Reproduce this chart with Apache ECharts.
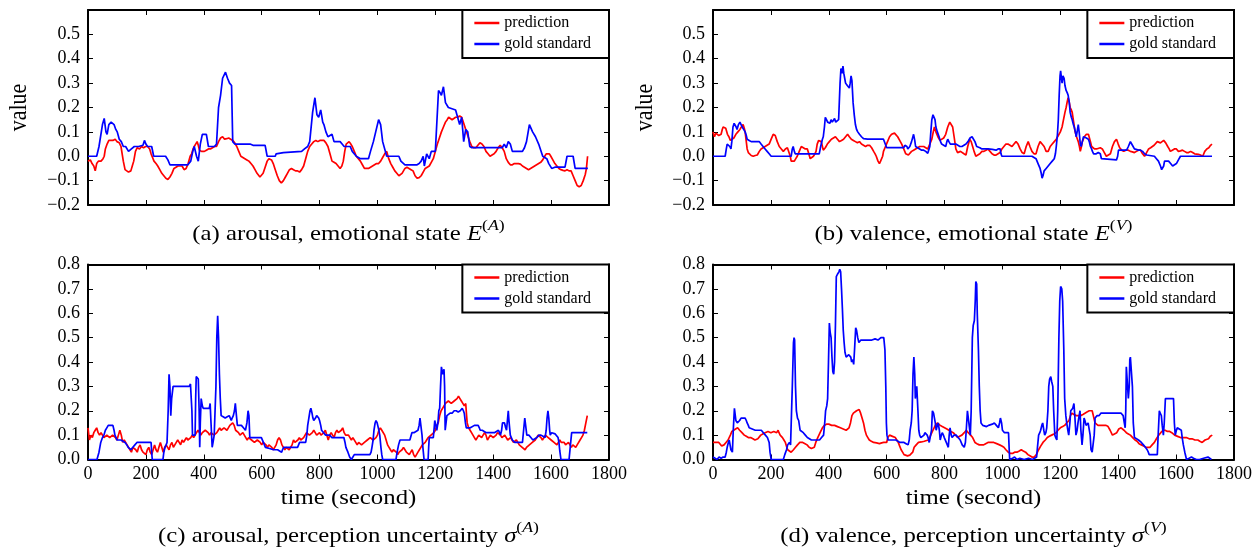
<!DOCTYPE html>
<html><head><meta charset="utf-8">
<script src="https://cdn.jsdelivr.net/npm/echarts@6/dist/echarts.min.js"></script>
<style>html,body{margin:0;padding:0;background:#fff}#c{width:1260px;height:552px}</style>
</head><body><div id="c"></div>
<script>
const FONT = 'Liberation Serif';
const legendNames = ['prediction', 'gold standard'];
const timeAxis = {min: 0, max: 1800, interval: 200};
const stateAxis = {min: -0.2, max: 0.6, interval: 0.1, maxLabel: 0.5};
const uncAxis = {min: 0, max: 0.8, interval: 0.1, maxLabel: 0.8};

const arousalStatePred = [[0,-0.02],[8,-0.015],[14,-0.03],[20,-0.04],[25,-0.06],[30,-0.03],[36,-0.02],[45,-0.02],[52,-0.01],[56,0.0],[60,0.03],[66,0.05],[72,0.065],[78,0.07],[86,0.065],[94,0.07],[100,0.06],[108,0.055],[114,0.04],[118,0.01],[122,-0.02],[128,-0.055],[134,-0.063],[140,-0.065],[148,-0.06],[153,-0.04],[158,-0.02],[164,0.02],[170,0.035],[178,0.03],[185,0.04],[192,0.035],[199,0.04],[206,0.04],[213,0.03],[218,0.01],[223,-0.005],[228,-0.02],[235,-0.03],[241,-0.04],[248,-0.055],[255,-0.07],[262,-0.08],[269,-0.09],[276,-0.095],[283,-0.085],[290,-0.07],[297,-0.05],[304,-0.045],[311,-0.04],[318,-0.04],[325,-0.04],[332,-0.055],[339,-0.05],[346,-0.03],[353,0.0],[358,0.01],[363,0.03],[367,0.04],[372,0.05],[377,0.06],[381,0.045],[385,0.025],[392,0.02],[402,0.02],[409,0.025],[416,0.03],[423,0.03],[430,0.035],[437,0.04],[444,0.04],[451,0.06],[458,0.075],[465,0.08],[472,0.07],[479,0.072],[486,0.075],[493,0.07],[500,0.065],[507,0.055],[514,0.04],[521,0.02],[528,0.0],[535,-0.005],[542,-0.01],[549,-0.015],[556,-0.02],[563,-0.03],[570,-0.04],[577,-0.055],[584,-0.07],[594,-0.085],[600,-0.08],[605,-0.07],[612,-0.045],[619,-0.02],[625,-0.01],[629,-0.005],[634,-0.015],[640,-0.03],[647,-0.055],[654,-0.08],[661,-0.1],[668,-0.11],[675,-0.1],[682,-0.085],[689,-0.07],[696,-0.055],[703,-0.05],[710,-0.055],[717,-0.06],[724,-0.06],[731,-0.065],[738,-0.055],[745,-0.04],[752,-0.01],[759,0.02],[766,0.04],[773,0.05],[780,0.06],[787,0.065],[794,0.06],[801,0.065],[808,0.065],[815,0.065],[822,0.055],[829,0.04],[836,0.01],[843,-0.02],[850,-0.025],[857,-0.03],[864,-0.04],[871,-0.05],[877,-0.04],[882,-0.02],[887,0.02],[892,0.05],[897,0.058],[902,0.06],[908,0.05],[913,0.04],[920,0.02],[927,0.0],[934,-0.01],[941,-0.02],[948,-0.035],[955,-0.05],[962,-0.05],[969,-0.05],[976,-0.045],[983,-0.04],[990,-0.035],[997,-0.03],[1004,-0.03],[1011,-0.02],[1018,-0.005],[1025,0.01],[1032,0.02],[1039,-0.01],[1046,-0.03],[1053,-0.045],[1060,-0.06],[1067,-0.07],[1074,-0.08],[1080,-0.075],[1085,-0.07],[1090,-0.06],[1095,-0.05],[1102,-0.045],[1109,-0.05],[1116,-0.055],[1123,-0.06],[1130,-0.08],[1137,-0.09],[1144,-0.088],[1151,-0.08],[1158,-0.065],[1165,-0.05],[1172,-0.045],[1179,-0.04],[1186,-0.025],[1193,-0.01],[1200,0.02],[1207,0.05],[1214,0.075],[1221,0.1],[1228,0.12],[1235,0.14],[1241,0.15],[1246,0.16],[1252,0.16],[1258,0.15],[1263,0.155],[1270,0.16],[1277,0.16],[1284,0.165],[1291,0.16],[1298,0.135],[1305,0.11],[1312,0.085],[1319,0.06],[1326,0.04],[1333,0.035],[1340,0.035],[1347,0.045],[1354,0.055],[1361,0.05],[1368,0.04],[1375,0.02],[1382,0.01],[1389,0.0],[1396,0.005],[1403,0.01],[1410,0.02],[1417,0.035],[1424,0.045],[1431,0.035],[1438,0.02],[1445,-0.01],[1452,-0.025],[1459,-0.035],[1466,-0.035],[1473,-0.03],[1480,-0.03],[1487,-0.03],[1494,-0.032],[1501,-0.04],[1508,-0.045],[1515,-0.05],[1522,-0.055],[1529,-0.05],[1536,-0.045],[1543,-0.04],[1550,-0.035],[1557,-0.03],[1564,-0.025],[1571,-0.015],[1578,0.0],[1583,0.01],[1588,0.015],[1594,0.01],[1599,0.0],[1606,-0.015],[1613,-0.03],[1620,-0.04],[1627,-0.05],[1634,-0.055],[1641,-0.058],[1648,-0.06],[1655,-0.055],[1662,-0.06],[1669,-0.06],[1676,-0.08],[1683,-0.1],[1690,-0.12],[1697,-0.125],[1704,-0.12],[1711,-0.1],[1718,-0.075],[1722,-0.05],[1726,0.0]];

const arousalStateGold = [[0,0],[30,0],[38,0.04],[50,0.13],[56,0.155],[62,0.1],[66,0.09],[72,0.13],[80,0.14],[90,0.13],[96,0.11],[101,0.1],[108,0.07],[115,0.06],[122,0.04],[130,0.04],[140,0.02],[150,0.03],[160,0.04],[175,0.04],[190,0.045],[195,0.065],[200,0.05],[206,0.04],[220,0.04],[227,0],[268,0],[276,-0.015],[283,-0.035],[345,-0.035],[355,-0.02],[362,0.02],[367,0.04],[375,0],[381,-0.02],[388,0.05],[395,0.09],[409,0.09],[416,0.04],[437,0.04],[444,0.05],[451,0.2],[458,0.25],[465,0.32],[475,0.345],[482,0.32],[489,0.3],[496,0.29],[500,0.06],[507,0.05],[560,0.05],[563,0.055],[570,0.045],[612,0.045],[619,0],[647,0],[650,0.01],[675,0.015],[680,0.02],[738,0.02],[748,0.03],[759,0.04],[766,0.06],[776,0.18],[784,0.24],[791,0.17],[797,0.16],[804,0.19],[811,0.14],[815,0.13],[822,0.1],[829,0.08],[843,0.09],[850,0.06],[871,0.06],[878,0.05],[885,0.04],[906,0.04],[913,0.02],[927,0],[941,-0.01],[969,-0.01],[976,0.02],[986,0.06],[994,0.1],[1004,0.15],[1011,0.13],[1018,0.06],[1032,0],[1074,0],[1081,-0.02],[1095,-0.035],[1137,-0.035],[1144,-0.03],[1151,-0.02],[1158,0.0],[1162,-0.04],[1170,0.01],[1179,-0.01],[1186,0.02],[1200,0.02],[1211,0.27],[1217,0.26],[1221,0.25],[1228,0.285],[1235,0.22],[1245,0.2],[1270,0.19],[1277,0.16],[1284,0.13],[1291,0.16],[1298,0.06],[1305,0.11],[1312,0.1],[1319,0.04],[1326,0.035],[1431,0.035],[1438,0.05],[1445,0.035],[1452,0.06],[1459,0.05],[1466,0.02],[1501,0.02],[1508,0.035],[1515,0.06],[1525,0.13],[1536,0.1],[1546,0.08],[1557,0.05],[1571,0],[1585,-0.01],[1592,-0.03],[1602,-0.05],[1613,-0.045],[1648,-0.045],[1655,0],[1676,0],[1683,-0.05],[1727,-0.05]];

const valenceStatePred = [[0,0.1],[5,0.08],[10,0.095],[14,0.09],[20,0.085],[28,0.09],[32,0.11],[35,0.12],[40,0.12],[44,0.115],[50,0.09],[55,0.08],[60,0.065],[65,0.06],[72,0.075],[79,0.09],[86,0.1],[93,0.11],[98,0.12],[104,0.13],[108,0.115],[111,0.1],[115,0.06],[118,0.03],[122,0.015],[125,0.01],[132,0.003],[139,0.0],[146,0.003],[153,0.005],[160,0.02],[166,0.03],[173,0.035],[180,0.04],[187,0.045],[194,0.05],[201,0.07],[208,0.09],[215,0.085],[222,0.06],[229,0.04],[236,0.03],[243,0.02],[250,0.03],[257,0.035],[263,0.03],[267,0.0],[270,-0.02],[276,-0.018],[281,-0.02],[286,-0.01],[291,0.0],[298,0.02],[305,0.04],[312,0.035],[319,0.03],[326,0.03],[331,0.01],[336,-0.01],[341,-0.005],[347,0.0],[352,0.01],[356,0.02],[360,0.05],[365,0.065],[370,0.065],[374,0.06],[378,0.04],[381,0.025],[388,0.035],[395,0.05],[402,0.06],[409,0.07],[416,0.075],[423,0.08],[430,0.07],[437,0.06],[444,0.065],[451,0.07],[458,0.08],[465,0.09],[471,0.08],[478,0.07],[485,0.065],[492,0.06],[499,0.055],[506,0.06],[513,0.05],[520,0.045],[527,0.04],[534,0.045],[541,0.045],[548,0.035],[555,0.02],[560,0.01],[564,0.0],[570,-0.02],[575,-0.03],[579,-0.02],[582,-0.015],[586,0.0],[589,0.02],[596,0.04],[603,0.06],[610,0.08],[617,0.09],[622,0.095],[627,0.095],[632,0.09],[638,0.08],[645,0.065],[652,0.05],[659,0.03],[666,0.01],[675,0.005],[680,0.01],[686,0.02],[693,0.025],[700,0.03],[707,0.035],[714,0.04],[721,0.04],[728,0.04],[735,0.035],[742,0.03],[749,0.05],[756,0.07],[761,0.1],[765,0.12],[770,0.1],[777,0.08],[784,0.065],[790,0.06],[797,0.075],[804,0.09],[811,0.12],[818,0.14],[823,0.14],[828,0.12],[833,0.08],[839,0.03],[845,0.015],[850,0.01],[855,0.02],[860,0.02],[867,0.01],[874,0.005],[880,0.04],[887,0.07],[892,0.06],[897,0.04],[902,0.02],[908,0.0],[915,0.005],[922,0.01],[929,0.02],[936,0.02],[943,0.025],[950,0.03],[957,0.02],[964,0.01],[971,0.005],[978,0.005],[985,0.01],[992,0.015],[998,0.03],[1005,0.04],[1012,0.05],[1019,0.05],[1026,0.045],[1033,0.04],[1040,0.05],[1047,0.06],[1054,0.05],[1061,0.03],[1068,0.015],[1075,0.01],[1082,0.04],[1089,0.06],[1095,0.04],[1102,0.02],[1109,0.01],[1116,0.01],[1123,0.04],[1130,0.06],[1137,0.05],[1144,0.04],[1151,0.02],[1158,0.02],[1165,0.04],[1172,0.05],[1179,0.06],[1186,0.07],[1193,0.085],[1200,0.1],[1206,0.12],[1211,0.15],[1216,0.18],[1220,0.2],[1224,0.225],[1227,0.24],[1231,0.22],[1234,0.2],[1238,0.19],[1241,0.18],[1246,0.14],[1251,0.1],[1256,0.08],[1262,0.06],[1266,0.04],[1269,0.02],[1273,0.04],[1276,0.06],[1283,0.08],[1290,0.09],[1297,0.09],[1300,0.09],[1304,0.06],[1308,0.04],[1313,0.035],[1318,0.03],[1325,0.03],[1331,0.03],[1338,0.035],[1345,0.03],[1352,0.015],[1359,0.0],[1366,0.005],[1373,0.01],[1380,0.04],[1387,0.06],[1394,0.07],[1400,0.05],[1405,0.035],[1412,0.025],[1419,0.02],[1426,0.025],[1435,0.025],[1442,0.02],[1449,0.018],[1456,0.015],[1463,0.02],[1470,0.025],[1477,0.025],[1484,0.01],[1491,0.0],[1498,0.015],[1505,0.03],[1512,0.035],[1517,0.04],[1524,0.045],[1530,0.05],[1535,0.06],[1540,0.058],[1546,0.055],[1552,0.06],[1557,0.065],[1564,0.055],[1571,0.04],[1576,0.03],[1580,0.02],[1587,0.025],[1594,0.03],[1601,0.03],[1608,0.02],[1615,0.022],[1622,0.025],[1629,0.02],[1636,0.015],[1643,0.015],[1650,0.02],[1657,0.015],[1664,0.01],[1670,0.005],[1677,0.008],[1684,0.005],[1692,0.0],[1699,0.02],[1706,0.03],[1713,0.035],[1719,0.045],[1724,0.05]];

const valenceStateGold = [[0,0],[42,0],[46,0.03],[49,0.05],[55,0.05],[58,0.04],[62,0.03],[65,0.06],[69,0.12],[73,0.135],[76,0.13],[80,0.12],[83,0.11],[88,0.13],[93,0.14],[97,0.13],[101,0.12],[106,0.11],[111,0.1],[115,0.085],[118,0.07],[125,0.065],[132,0.06],[160,0.06],[166,0.05],[173,0.04],[180,0.03],[187,0.02],[194,0.01],[201,0],[270,0],[274,0.03],[277,0.04],[281,0.02],[284,0.01],[367,0.01],[372,0.04],[378,0.07],[381,0.08],[385,0.12],[388,0.16],[392,0.15],[396,0.14],[400,0.145],[404,0.135],[408,0.15],[412,0.14],[416,0.14],[420,0.155],[424,0.14],[430,0.14],[434,0.15],[439,0.3],[442,0.36],[446,0.34],[449,0.37],[452,0.34],[455,0.32],[458,0.3],[464,0.29],[471,0.28],[474,0.3],[477,0.33],[480,0.31],[484,0.22],[488,0.17],[492,0.13],[496,0.11],[500,0.1],[506,0.09],[513,0.08],[520,0.072],[534,0.07],[589,0.07],[595,0.07],[600,0.035],[659,0.035],[663,0.045],[666,0.05],[670,0.04],[673,0.03],[680,0.04],[686,0.06],[690,0.065],[693,0.09],[697,0.065],[700,0.04],[707,0.035],[714,0.03],[721,0.025],[728,0.025],[735,0.02],[742,0.012],[746,0.02],[749,0.04],[752,0.09],[756,0.15],[760,0.17],[763,0.175],[767,0.15],[770,0.12],[775,0.1],[781,0.08],[786,0.06],[790,0.05],[797,0.045],[804,0.04],[808,0.06],[811,0.07],[815,0.06],[820,0.05],[830,0.05],[839,0.05],[846,0.045],[853,0.04],[860,0.04],[867,0.045],[874,0.05],[881,0.06],[888,0.075],[895,0.08],[900,0.085],[905,0.06],[911,0.04],[916,0.035],[922,0.035],[929,0.03],[936,0.03],[950,0.03],[965,0.028],[978,0.025],[985,0.03],[992,0.03],[995,0.01],[998,0],[1102,0],[1109,-0.005],[1116,-0.01],[1123,-0.03],[1130,-0.05],[1134,-0.07],[1137,-0.09],[1140,-0.08],[1144,-0.06],[1151,-0.05],[1158,-0.04],[1165,-0.03],[1172,-0.02],[1179,-0.01],[1183,0.01],[1186,0.04],[1190,0.09],[1193,0.15],[1196,0.25],[1199,0.33],[1201,0.35],[1204,0.32],[1206,0.3],[1209,0.33],[1213,0.32],[1216,0.29],[1220,0.27],[1224,0.26],[1227,0.25],[1231,0.22],[1234,0.18],[1238,0.16],[1241,0.15],[1245,0.13],[1248,0.12],[1252,0.1],[1255,0.08],[1258,0.1],[1262,0.13],[1265,0.1],[1269,0.05],[1272,0.04],[1276,0.06],[1280,0.08],[1283,0.08],[1290,0.075],[1297,0.07],[1300,0.06],[1304,0.04],[1308,0.03],[1311,0.02],[1315,0.01],[1318,0.005],[1324,0.01],[1331,0.015],[1338,0.01],[1342,-0.01],[1345,-0.015],[1394,-0.015],[1398,0.0],[1401,0.025],[1429,0.025],[1435,0.04],[1442,0.06],[1446,0.055],[1449,0.045],[1456,0.03],[1470,0.025],[1477,0.025],[1484,0.02],[1491,0.01],[1498,0.005],[1525,0.0],[1532,-0.01],[1539,-0.02],[1546,-0.04],[1550,-0.055],[1553,-0.06],[1557,-0.04],[1560,-0.02],[1574,-0.02],[1581,-0.03],[1588,-0.04],[1594,-0.04],[1601,-0.03],[1608,-0.015],[1615,0],[1724,0]];

const arousalUncPred = [[0,0.13],[5,0.08],[10,0.1],[15,0.09],[20,0.11],[25,0.12],[30,0.13],[35,0.11],[40,0.1],[45,0.11],[50,0.1],[55,0.09],[60,0.09],[65,0.1],[70,0.1],[75,0.09],[80,0.09],[85,0.1],[90,0.1],[95,0.09],[100,0.08],[105,0.1],[110,0.12],[115,0.1],[120,0.07],[125,0.08],[130,0.07],[135,0.06],[140,0.05],[145,0.04],[150,0.03],[155,0.05],[160,0.05],[165,0.04],[170,0.03],[175,0.05],[180,0.06],[185,0.04],[190,0.03],[195,0.03],[200,0.02],[205,0.04],[210,0.05],[215,0.03],[220,0.02],[225,0.04],[230,0.06],[235,0.04],[240,0.03],[245,0.05],[250,0.07],[255,0.05],[260,0.03],[265,0.05],[270,0.06],[275,0.05],[280,0.04],[285,0.06],[290,0.07],[295,0.05],[300,0.05],[305,0.07],[310,0.08],[315,0.07],[320,0.06],[325,0.08],[330,0.07],[335,0.08],[340,0.09],[345,0.08],[350,0.08],[355,0.09],[360,0.1],[365,0.09],[370,0.1],[375,0.11],[380,0.12],[385,0.11],[390,0.1],[395,0.11],[400,0.11],[405,0.12],[410,0.12],[415,0.11],[420,0.1],[425,0.11],[430,0.11],[435,0.1],[440,0.1],[445,0.11],[450,0.12],[455,0.13],[460,0.12],[465,0.12],[470,0.13],[475,0.13],[480,0.12],[485,0.13],[490,0.14],[495,0.14],[500,0.15],[505,0.14],[510,0.12],[515,0.12],[520,0.11],[525,0.1],[530,0.1],[535,0.11],[540,0.1],[545,0.09],[550,0.08],[555,0.09],[560,0.09],[565,0.08],[570,0.08],[575,0.07],[580,0.07],[585,0.08],[590,0.08],[595,0.07],[600,0.06],[605,0.07],[610,0.07],[615,0.06],[620,0.05],[625,0.06],[630,0.06],[635,0.05],[640,0.04],[645,0.05],[650,0.06],[655,0.08],[660,0.09],[665,0.08],[670,0.06],[675,0.05],[680,0.04],[685,0.05],[690,0.05],[695,0.04],[700,0.04],[705,0.06],[710,0.08],[715,0.07],[720,0.07],[725,0.08],[730,0.09],[735,0.08],[740,0.08],[745,0.09],[750,0.1],[755,0.11],[760,0.11],[765,0.1],[770,0.1],[775,0.11],[780,0.12],[785,0.11],[790,0.1],[795,0.1],[800,0.11],[805,0.1],[810,0.1],[815,0.11],[820,0.12],[825,0.1],[830,0.08],[835,0.1],[840,0.11],[845,0.1],[850,0.09],[855,0.11],[860,0.12],[865,0.11],[870,0.11],[875,0.12],[880,0.13],[885,0.11],[890,0.1],[895,0.1],[900,0.1],[905,0.09],[910,0.08],[915,0.09],[920,0.09],[925,0.07],[930,0.06],[935,0.07],[940,0.07],[945,0.06],[950,0.06],[955,0.07],[960,0.07],[965,0.08],[970,0.08],[975,0.09],[980,0.09],[985,0.08],[990,0.08],[995,0.09],[1000,0.1],[1005,0.12],[1010,0.13],[1015,0.12],[1020,0.12],[1025,0.1],[1030,0.08],[1035,0.06],[1040,0.05],[1045,0.04],[1050,0.03],[1055,0.04],[1060,0.04],[1065,0.03],[1070,0.02],[1075,0.03],[1080,0.03],[1085,0.04],[1090,0.05],[1095,0.04],[1100,0.03],[1105,0.03],[1110,0.02],[1115,0.03],[1120,0.04],[1125,0.02],[1130,0.01],[1135,0.02],[1140,0.03],[1145,0.04],[1150,0.05],[1155,0.06],[1160,0.06],[1165,0.07],[1170,0.08],[1175,0.09],[1180,0.09],[1185,0.1],[1190,0.1],[1195,0.11],[1200,0.12],[1205,0.14],[1210,0.15],[1215,0.18],[1220,0.2],[1225,0.21],[1230,0.22],[1235,0.23],[1240,0.23],[1245,0.24],[1250,0.24],[1255,0.23],[1260,0.23],[1265,0.24],[1270,0.24],[1275,0.25],[1280,0.26],[1285,0.25],[1290,0.24],[1295,0.23],[1300,0.22],[1305,0.23],[1308,0.18],[1310,0.15],[1315,0.13],[1320,0.12],[1325,0.11],[1330,0.1],[1335,0.09],[1340,0.08],[1345,0.09],[1350,0.1],[1355,0.1],[1360,0.09],[1365,0.1],[1370,0.11],[1375,0.1],[1380,0.08],[1385,0.09],[1390,0.1],[1395,0.1],[1400,0.09],[1405,0.09],[1410,0.1],[1415,0.11],[1420,0.11],[1425,0.1],[1430,0.09],[1435,0.09],[1440,0.1],[1445,0.09],[1450,0.08],[1455,0.08],[1460,0.09],[1465,0.08],[1470,0.07],[1475,0.07],[1480,0.08],[1485,0.07],[1490,0.06],[1495,0.06],[1500,0.05],[1505,0.05],[1510,0.04],[1515,0.05],[1520,0.05],[1525,0.06],[1530,0.06],[1535,0.07],[1540,0.07],[1545,0.08],[1550,0.09],[1555,0.1],[1560,0.1],[1565,0.09],[1570,0.08],[1575,0.09],[1580,0.1],[1585,0.1],[1590,0.09],[1595,0.09],[1600,0.08],[1605,0.08],[1610,0.07],[1615,0.07],[1620,0.06],[1625,0.07],[1630,0.08],[1635,0.07],[1640,0.07],[1645,0.07],[1650,0.06],[1655,0.06],[1660,0.07],[1665,0.06],[1670,0.05],[1675,0.06],[1680,0.06],[1685,0.05],[1690,0.06],[1695,0.06],[1700,0.08],[1705,0.09],[1710,0.1],[1715,0.12],[1720,0.15],[1725,0.18]];

const arousalUncGold = [[0,0],[31,0],[38,0.03],[44,0.07],[50,0.09],[55,0.1],[60,0.12],[65,0.13],[70,0.14],[86,0.14],[90,0.12],[93,0.1],[97,0.09],[100,0.08],[114,0.08],[121,0.075],[128,0.07],[134,0.06],[139,0.05],[144,0.045],[148,0.04],[155,0.05],[162,0.06],[169,0.07],[218,0.07],[220,0.03],[222,0],[259,0],[262,0.03],[266,0.05],[270,0.06],[273,0.07],[277,0.2],[280,0.35],[283,0.3],[286,0.18],[289,0.25],[294,0.3],[350,0.3],[354,0.31],[357,0.31],[359,0.2],[361,0.1],[370,0.1],[372,0.25],[374,0.34],[378,0.34],[381,0.33],[384,0.2],[386,0.05],[388,0.15],[391,0.25],[395,0.22],[398,0.21],[419,0.21],[422,0.23],[425,0.15],[429,0.05],[432,0.07],[436,0.1],[439,0.2],[442,0.3],[445,0.5],[448,0.59],[451,0.5],[454,0.35],[457,0.25],[460,0.18],[467,0.175],[474,0.17],[481,0.175],[488,0.18],[495,0.16],[498,0.17],[502,0.18],[506,0.2],[509,0.23],[512,0.19],[516,0.14],[530,0.14],[537,0.13],[544,0.12],[549,0.15],[553,0.2],[556,0.18],[559,0.09],[599,0.09],[606,0.07],[613,0.05],[627,0.045],[641,0.04],[655,0.04],[662,0.035],[669,0.03],[672,0.04],[676,0.05],[724,0.05],[731,0.07],[752,0.07],[756,0.1],[759,0.14],[763,0.17],[767,0.2],[770,0.21],[774,0.19],[777,0.17],[780,0.16],[786,0.17],[790,0.18],[793,0.18],[797,0.17],[800,0.16],[804,0.14],[807,0.12],[814,0.11],[821,0.1],[835,0.1],[842,0.09],[884,0.09],[888,0.07],[891,0.05],[898,0.03],[904,0.01],[910,0.0],[915,0],[920,0.02],[974,0.02],[978,0.03],[981,0.05],[985,0.08],[988,0.12],[992,0.15],[995,0.16],[999,0.15],[1001,0.14],[1005,0.12],[1008,0.1],[1012,0.05],[1015,0.02],[1018,0],[1064,0],[1068,0.03],[1073,0.06],[1078,0.08],[1112,0.08],[1119,0.11],[1126,0.11],[1133,0.115],[1140,0.12],[1144,0.14],[1147,0.17],[1150,0.14],[1154,0.1],[1157,0.05],[1161,0],[1175,0],[1177,0.05],[1179,0.09],[1193,0.09],[1196,0.13],[1198,0.16],[1202,0.14],[1205,0.12],[1209,0.15],[1212,0.2],[1215,0.21],[1218,0.3],[1221,0.38],[1224,0.36],[1226,0.35],[1230,0.37],[1232,0.3],[1234,0.12],[1237,0.15],[1240,0.18],[1251,0.19],[1258,0.19],[1265,0.2],[1272,0.2],[1279,0.195],[1286,0.2],[1293,0.21],[1297,0.2],[1300,0.19],[1304,0.15],[1307,0.13],[1314,0.13],[1321,0.13],[1335,0.14],[1348,0.14],[1352,0.13],[1355,0.12],[1362,0.12],[1369,0.115],[1376,0.11],[1404,0.11],[1411,0.115],[1418,0.12],[1422,0.11],[1425,0.1],[1429,0.12],[1432,0.15],[1439,0.15],[1443,0.13],[1446,0.12],[1449,0.16],[1452,0.2],[1455,0.15],[1459,0.1],[1466,0.08],[1474,0.07],[1501,0.07],[1505,0.12],[1509,0.17],[1512,0.14],[1516,0.1],[1523,0.1],[1530,0.09],[1537,0.08],[1544,0.085],[1551,0.09],[1558,0.1],[1565,0.1],[1572,0.095],[1579,0.09],[1583,0.12],[1586,0.17],[1589,0.2],[1592,0.17],[1595,0.12],[1597,0.1],[1602,0.11],[1607,0.11],[1614,0.105],[1620,0.1],[1624,0.09],[1627,0.07],[1630,0.035],[1634,0],[1662,0],[1666,0.05],[1671,0.11],[1725,0.11]];

const valenceUncPred = [[0,0.07],[10,0.07],[20,0.07],[30,0.055],[38,0.06],[45,0.07],[52,0.08],[60,0.1],[65,0.115],[70,0.12],[78,0.125],[85,0.13],[92,0.12],[100,0.11],[108,0.1],[115,0.095],[122,0.09],[130,0.09],[138,0.085],[145,0.08],[150,0.08],[155,0.085],[160,0.09],[165,0.1],[172,0.105],[180,0.11],[190,0.115],[200,0.11],[210,0.115],[215,0.11],[220,0.11],[225,0.12],[228,0.11],[232,0.1],[240,0.09],[245,0.08],[250,0.07],[255,0.05],[258,0.04],[264,0.035],[270,0.03],[278,0.04],[285,0.05],[292,0.06],[300,0.07],[310,0.07],[318,0.065],[325,0.06],[332,0.05],[340,0.045],[345,0.04],[350,0.05],[355,0.07],[362,0.09],[370,0.11],[378,0.13],[385,0.14],[392,0.145],[400,0.145],[410,0.14],[420,0.14],[430,0.135],[440,0.13],[450,0.125],[460,0.12],[466,0.125],[470,0.13],[475,0.15],[480,0.18],[485,0.19],[490,0.195],[496,0.2],[500,0.2],[505,0.205],[510,0.19],[515,0.17],[520,0.15],[525,0.12],[530,0.1],[535,0.09],[540,0.08],[547,0.075],[555,0.07],[565,0.068],[575,0.065],[583,0.068],[590,0.07],[596,0.07],[600,0.07],[604,0.09],[610,0.1],[615,0.1],[620,0.095],[626,0.09],[630,0.09],[635,0.08],[640,0.07],[645,0.055],[650,0.04],[655,0.03],[660,0.02],[665,0.015],[672,0.015],[680,0.018],[686,0.02],[690,0.03],[695,0.05],[702,0.06],[710,0.07],[720,0.072],[730,0.075],[738,0.078],[745,0.08],[752,0.1],[760,0.12],[768,0.14],[775,0.15],[780,0.145],[785,0.14],[792,0.135],[800,0.13],[808,0.125],[815,0.12],[822,0.115],[830,0.11],[838,0.1],[845,0.09],[852,0.095],[860,0.1],[868,0.11],[875,0.12],[882,0.11],[890,0.1],[897,0.09],[905,0.07],[912,0.065],[920,0.06],[928,0.06],[935,0.06],[942,0.065],[950,0.07],[960,0.07],[970,0.07],[980,0.065],[990,0.06],[998,0.055],[1005,0.05],[1012,0.04],[1020,0.03],[1028,0.025],[1035,0.025],[1042,0.03],[1050,0.03],[1058,0.035],[1065,0.04],[1072,0.035],[1080,0.03],[1088,0.02],[1095,0.015],[1102,0.01],[1110,0.01],[1117,0.02],[1125,0.04],[1132,0.055],[1140,0.07],[1148,0.08],[1155,0.09],[1162,0.095],[1170,0.1],[1178,0.105],[1185,0.11],[1192,0.12],[1200,0.13],[1208,0.135],[1215,0.14],[1222,0.15],[1230,0.16],[1235,0.18],[1240,0.19],[1247,0.185],[1255,0.18],[1262,0.18],[1270,0.18],[1278,0.185],[1285,0.19],[1292,0.195],[1300,0.2],[1306,0.2],[1310,0.2],[1314,0.18],[1320,0.15],[1325,0.145],[1330,0.14],[1340,0.14],[1350,0.14],[1358,0.14],[1365,0.135],[1372,0.12],[1380,0.1],[1387,0.105],[1395,0.11],[1402,0.125],[1410,0.13],[1415,0.13],[1420,0.12],[1428,0.11],[1435,0.105],[1442,0.1],[1450,0.09],[1458,0.08],[1465,0.075],[1472,0.065],[1480,0.06],[1488,0.055],[1495,0.05],[1502,0.05],[1510,0.05],[1517,0.06],[1525,0.07],[1532,0.085],[1540,0.1],[1547,0.11],[1555,0.12],[1562,0.12],[1570,0.115],[1578,0.115],[1585,0.11],[1595,0.1],[1605,0.095],[1615,0.09],[1625,0.09],[1635,0.09],[1645,0.085],[1655,0.085],[1665,0.08],[1675,0.08],[1682,0.075],[1690,0.07],[1695,0.075],[1700,0.08],[1706,0.085],[1712,0.085],[1718,0.095],[1725,0.1]];

const valenceUncGold = [[0,0.01],[7,0.005],[14,0.0],[21,0.01],[28,0.005],[35,0.01],[42,0.01],[46,0.03],[49,0.05],[53,0.07],[56,0.08],[59,0.06],[62,0.04],[67,0.03],[70,0.12],[74,0.21],[77,0.18],[79,0.16],[84,0.15],[88,0.15],[92,0.16],[97,0.17],[104,0.17],[111,0.17],[115,0.16],[118,0.15],[122,0.14],[125,0.13],[146,0.12],[167,0.12],[174,0.11],[181,0.1],[188,0.09],[194,0.07],[197,0.03],[201,0],[243,0],[248,0.02],[254,0.04],[258,0.06],[264,0.07],[268,0.06],[271,0.06],[274,0.3],[278,0.48],[280,0.5],[282,0.49],[285,0.3],[288,0.2],[292,0.17],[296,0.16],[301,0.12],[306,0.115],[312,0.11],[319,0.1],[326,0.09],[333,0.085],[340,0.08],[368,0.08],[375,0.09],[382,0.1],[386,0.15],[389,0.2],[393,0.22],[396,0.25],[399,0.4],[402,0.56],[405,0.52],[408,0.5],[411,0.42],[414,0.36],[417,0.35],[420,0.4],[423,0.55],[426,0.75],[430,0.76],[435,0.77],[438,0.78],[441,0.77],[444,0.7],[447,0.62],[450,0.53],[453,0.48],[456,0.44],[460,0.42],[465,0.42],[469,0.43],[472,0.43],[476,0.42],[479,0.4],[483,0.41],[486,0.39],[489,0.45],[493,0.54],[496,0.53],[500,0.5],[504,0.48],[507,0.48],[511,0.49],[514,0.49],[530,0.49],[549,0.49],[560,0.495],[570,0.49],[580,0.5],[590,0.5],[594,0.45],[597,0.3],[599,0.15],[601,0.1],[605,0.08],[611,0.08],[632,0.08],[639,0.075],[646,0.07],[653,0.07],[660,0.07],[667,0.065],[674,0.06],[678,0.08],[681,0.12],[685,0.15],[688,0.2],[691,0.35],[694,0.42],[697,0.35],[699,0.25],[702,0.28],[704,0.3],[708,0.2],[711,0.12],[714,0.1],[718,0.09],[722,0.095],[729,0.1],[732,0.11],[736,0.11],[740,0.1],[743,0.09],[747,0.07],[750,0.07],[755,0.12],[758,0.2],[762,0.19],[765,0.19],[768,0.15],[771,0.12],[775,0.14],[778,0.15],[782,0.12],[785,0.08],[789,0.1],[792,0.11],[796,0.1],[799,0.09],[806,0.07],[813,0.05],[816,0.1],[819,0.13],[823,0.1],[826,0.09],[833,0.1],[840,0.1],[847,0.09],[854,0.08],[861,0.06],[868,0.05],[872,0.07],[875,0.12],[879,0.2],[882,0.2],[885,0.14],[889,0.1],[892,0.2],[896,0.5],[899,0.55],[903,0.57],[906,0.65],[908,0.73],[911,0.72],[913,0.6],[917,0.45],[920,0.3],[923,0.2],[926,0.15],[932,0.14],[938,0.14],[945,0.135],[952,0.14],[958,0.14],[965,0.145],[972,0.15],[979,0.14],[986,0.13],[990,0.15],[993,0.17],[997,0.15],[1000,0.12],[1007,0.11],[1021,0.11],[1023,0.05],[1025,0],[1035,0.005],[1042,0.01],[1050,0.0],[1060,0.005],[1075,0.0],[1090,0.005],[1104,0],[1118,0.01],[1121,0.05],[1125,0.1],[1129,0.11],[1132,0.12],[1136,0.14],[1139,0.15],[1143,0.12],[1146,0.1],[1150,0.11],[1153,0.13],[1157,0.2],[1160,0.3],[1163,0.33],[1167,0.34],[1170,0.32],[1174,0.3],[1177,0.2],[1181,0.1],[1184,0.09],[1188,0.08],[1191,0.2],[1195,0.5],[1198,0.65],[1201,0.71],[1205,0.7],[1208,0.65],[1212,0.45],[1215,0.25],[1219,0.18],[1222,0.15],[1226,0.12],[1229,0.1],[1233,0.15],[1236,0.2],[1240,0.2],[1243,0.21],[1247,0.23],[1250,0.18],[1254,0.1],[1258,0.12],[1261,0.15],[1265,0.18],[1268,0.2],[1271,0.12],[1275,0.06],[1278,0.1],[1282,0.17],[1285,0.16],[1289,0.14],[1292,0.14],[1296,0.15],[1299,0.15],[1303,0.1],[1306,0.04],[1310,0.03],[1313,0.03],[1317,0.1],[1320,0.17],[1327,0.18],[1334,0.18],[1340,0.19],[1360,0.19],[1380,0.19],[1400,0.19],[1410,0.19],[1417,0.18],[1421,0.15],[1424,0.13],[1426,0.2],[1428,0.38],[1431,0.38],[1435,0.25],[1438,0.3],[1440,0.41],[1442,0.42],[1445,0.42],[1449,0.3],[1452,0.15],[1456,0.09],[1463,0.085],[1470,0.08],[1480,0.07],[1487,0.06],[1494,0.05],[1500,0.04],[1504,0.03],[1507,0.02],[1521,0.02],[1535,0.02],[1538,0.1],[1542,0.2],[1545,0.19],[1549,0.18],[1552,0.14],[1556,0.1],[1559,0.15],[1563,0.25],[1570,0.25],[1580,0.25],[1591,0.25],[1594,0.15],[1597,0.1],[1601,0.12],[1604,0.13],[1611,0.125],[1618,0.12],[1621,0.09],[1625,0.06],[1630,0.03],[1636,0],[1645,0.005],[1653,0.01],[1660,0.005],[1670,0.0],[1681,0],[1695,0.005],[1710,0.01],[1716,0.005],[1722,0]];

const panels = [
  {grid: {left: 88, top: 10, width: 521, height: 195}, y: stateAxis, showX: false, pred: arousalStatePred, gold: arousalStateGold},
  {grid: {left: 713, top: 10, width: 521, height: 195}, y: stateAxis, showX: false, pred: valenceStatePred, gold: valenceStateGold},
  {grid: {left: 88, top: 264.5, width: 521, height: 195}, y: uncAxis, showX: true, pred: arousalUncPred, gold: arousalUncGold},
  {grid: {left: 713, top: 264.5, width: 521, height: 195}, y: uncAxis, showX: true, pred: valenceUncPred, gold: valenceUncGold}
];

const fmt = (lim) => (v) => {
  if (v > lim + 1e-6) return '';
  let s = Math.abs(v) < 1e-9 ? '0.0' : v.toFixed(1);
  return s.replace('-', '\u2212');
};
const tick = {show: true, inside: true, length: 5, lineStyle: {color: '#000', width: 1}};
const line = {show: true, onZero: false, lineStyle: {color: '#000', width: 2}};
const labelFont = {fontFamily: FONT, fontSize: 18, color: '#000'};

const grids = [], xAxes = [], yAxes = [], series = [], legends = [];
panels.forEach((p, i) => {
  grids.push(Object.assign({containLabel: false}, p.grid));
  xAxes.push({type: 'value', gridIndex: i, position: 'bottom', min: timeAxis.min, max: timeAxis.max, interval: timeAxis.interval,
    axisLine: line, axisTick: tick, splitLine: {show: false},
    axisLabel: Object.assign({show: p.showX, margin: 6, formatter: (v) => String(v)}, labelFont)});
  xAxes.push({type: 'value', gridIndex: i, position: 'top', min: timeAxis.min, max: timeAxis.max, interval: timeAxis.interval,
    axisLine: line, axisTick: tick, splitLine: {show: false}, axisLabel: {show: false}});
  yAxes.push({type: 'value', gridIndex: i, position: 'left', min: p.y.min, max: p.y.max, interval: p.y.interval,
    axisLine: line, axisTick: tick, splitLine: {show: false},
    axisLabel: Object.assign({margin: 8, formatter: fmt(p.y.maxLabel)}, labelFont)});
  yAxes.push({type: 'value', gridIndex: i, position: 'right', min: p.y.min, max: p.y.max, interval: p.y.interval,
    axisLine: line, axisTick: tick, splitLine: {show: false}, axisLabel: {show: false}});
  series.push({type: 'line', name: legendNames[0], xAxisIndex: 2 * i, yAxisIndex: 2 * i, data: p.pred,
    symbol: 'none', color: '#ff0000', lineStyle: {width: 1.7, color: '#ff0000'}, z: 2});
  series.push({type: 'line', name: legendNames[1], xAxisIndex: 2 * i, yAxisIndex: 2 * i, data: p.gold,
    symbol: 'none', color: '#0000ff', lineStyle: {width: 1.7, color: '#0000ff'}, z: 3});
  legends.push({data: legendNames, orient: 'vertical', selectedMode: false,
    right: 1260 - (p.grid.left + p.grid.width), top: p.grid.top,
    icon: 'rect', itemWidth: 25, itemHeight: 2.5, itemGap: 5, itemTextGap: 15,
    padding: [5, 18, 6, 12], borderColor: '#000', borderWidth: 2, backgroundColor: '#fff',
    textStyle: {fontFamily: FONT, fontSize: 16, lineHeight: 16, color: '#000'}});
});

const SX = 1.18;
const rich = {
  n: {fontFamily: FONT, fontSize: 21, lineHeight: 31, color: '#000'},
  i: {fontFamily: FONT, fontSize: 21, lineHeight: 31, fontStyle: 'italic', color: '#000'},
  s: {fontFamily: FONT, fontSize: 15, lineHeight: 15, verticalAlign: 'top', color: '#000'},
  si: {fontFamily: FONT, fontSize: 15, lineHeight: 15, verticalAlign: 'top', fontStyle: 'italic', color: '#000'}
};
const captions = [
  {x: 348.5, y: 234, text: '{n|(a) arousal, emotional state }{i|E}{s|(}{si|A}{s|)}'},
  {x: 973.5, y: 234, text: '{n|(b) valence, emotional state }{i|E}{s|(}{si|V}{s|)}'},
  {x: 348.5, y: 536, text: '{n|(c) arousal, perception uncertainty }{i|\u03c3}{s|(}{si|A}{s|)}'},
  {x: 973.5, y: 536, text: '{n|(d) valence, perception uncertainty }{i|\u03c3}{s|(}{si|V}{s|)}'}
];
const graphic = captions.map(c => ({type: 'text', x: c.x, y: c.y, scaleX: SX,
  style: {text: c.text, rich: rich, align: 'center', verticalAlign: 'middle'}}));
[[348.5, 498], [973.5, 498]].forEach(([x, y]) => graphic.push({type: 'text', x, y, scaleX: SX,
  style: {text: 'time (second)', fontFamily: FONT, fontSize: 21, fill: '#000', align: 'center', verticalAlign: 'middle'}}));
[[19, 107.5], [645, 107.5]].forEach(([x, y]) => graphic.push({type: 'text', x, y, rotation: Math.PI / 2, scaleY: SX,
  style: {text: 'value', fontFamily: FONT, fontSize: 22, fill: '#000', align: 'center', verticalAlign: 'middle'}}));

const chart = echarts.init(document.getElementById('c'), null, {renderer: 'canvas'});
chart.setOption({
  animation: false,
  backgroundColor: '#fff',
  grid: grids, xAxis: xAxes, yAxis: yAxes, series: series, legend: legends, graphic: graphic
});
</script></body></html>
